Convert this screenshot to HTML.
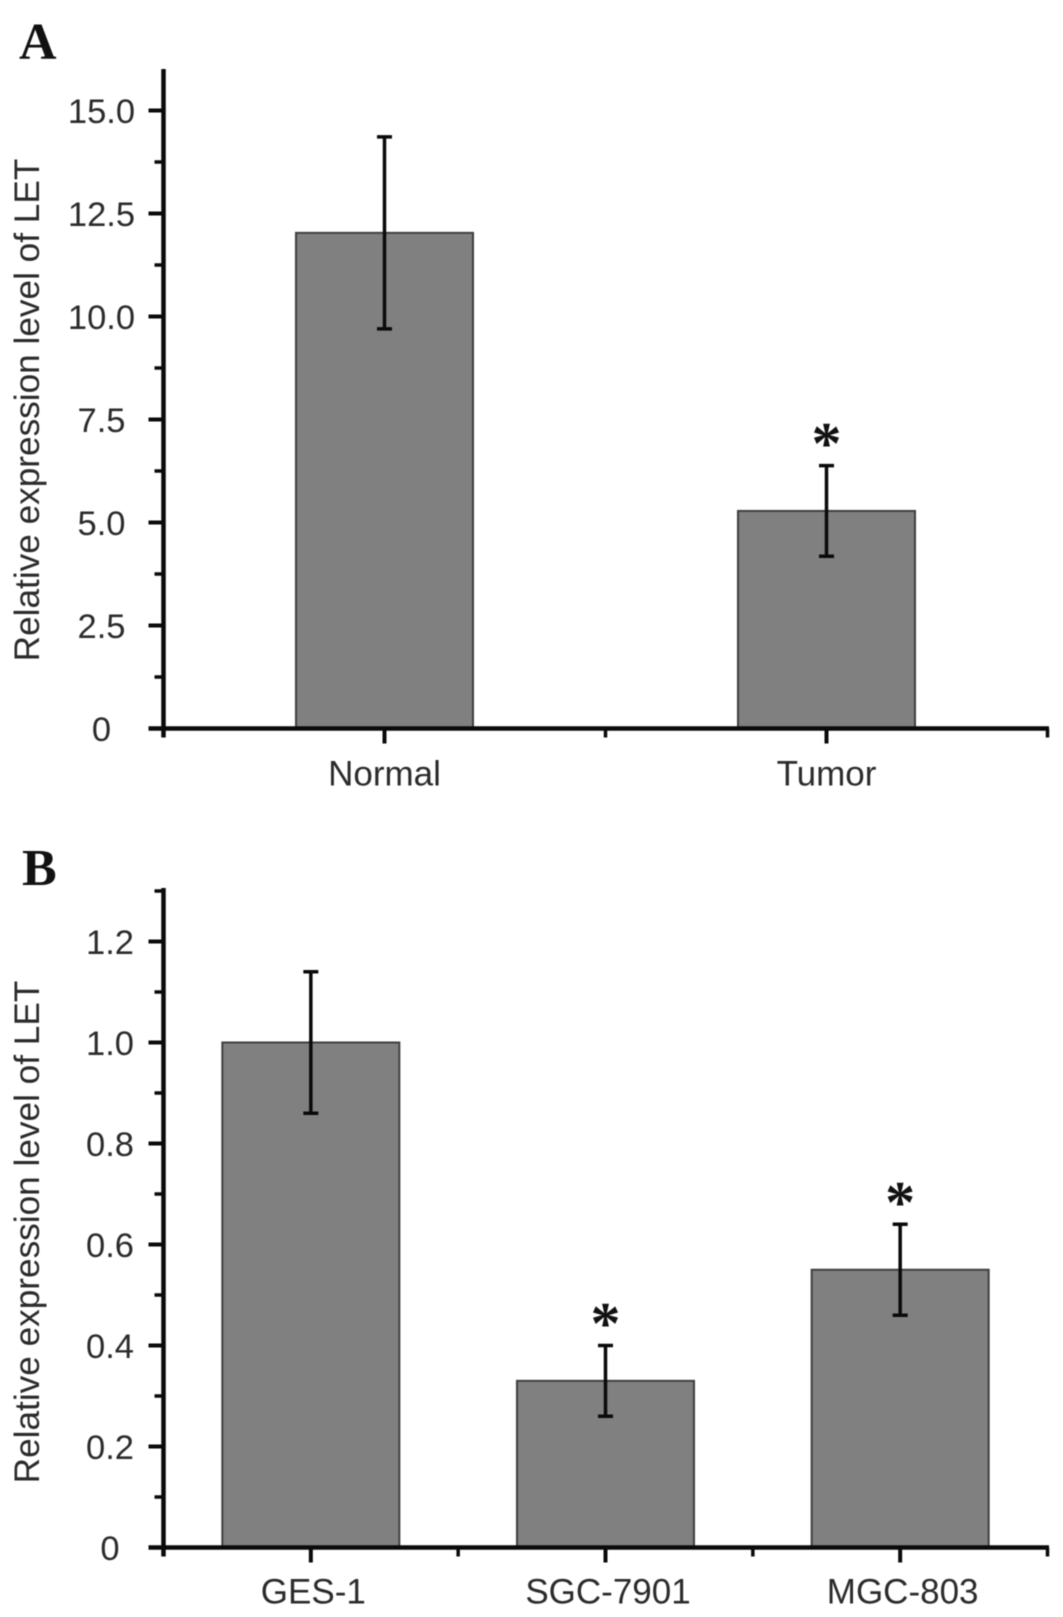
<!DOCTYPE html>
<html>
<head>
<meta charset="utf-8">
<style>
html,body{margin:0;padding:0;background:#fff;width:1063px;height:1617px;overflow:hidden}
svg{display:block;filter:blur(.6px)}
text{font-family:"Liberation Sans",Arial,sans-serif;fill:#2b2b2b}
.tick{font-size:34.5px}
.cat{font-size:35px}
.ytitle{font-size:35.2px}
.panel{font-family:"Liberation Serif","Times New Roman",serif;font-weight:bold;font-size:52px;fill:#111}
.star{font-family:"Liberation Serif","Times New Roman",serif;font-weight:bold;font-size:60px;fill:#111}
</style>
</head>
<body>
<svg id="chart" width="1063" height="1617" viewBox="0 0 1063 1617" xmlns="http://www.w3.org/2000/svg">
<rect width="1063" height="1617" fill="#fff"/>
<text class="panel" x="19" y="59">A</text>
<text class="panel" x="22" y="885">B</text>
</svg>
<script>
const categoriesA = ["Normal", "Tumor"];
const valuesA = [12.03, 5.28];
const errorsA = [2.33, 1.1];
const starsA = [false, true];
const tickLabelsA = ["0", "2.5", "5.0", "7.5", "10.0", "12.5", "15.0"];
const tickValuesA = [0, 2.5, 5, 7.5, 10, 12.5, 15];
const minorTicksA = [1.25, 3.75, 6.25, 8.75, 11.25, 13.75];

const categoriesB = ["GES-1", "SGC-7901", "MGC-803"];
const valuesB = [1.0, 0.33, 0.55];
const errorsB = [0.14, 0.07, 0.09];
const starsB = [false, true, true];
const tickLabelsB = ["0", "0.2", "0.4", "0.6", "0.8", "1.0", "1.2"];
const tickValuesB = [0, 0.2, 0.4, 0.6, 0.8, 1.0, 1.2];
const minorTicksB = [0.1, 0.3, 0.5, 0.7, 0.9, 1.1, 1.3];

const svg = document.getElementById('chart');
const NS = 'http://www.w3.org/2000/svg';

function make(tag, attrs, text) {
  const el = document.createElementNS(NS, tag);
  for (const k in attrs) el.setAttribute(k, attrs[k]);
  if (text !== undefined) el.textContent = text;
  svg.appendChild(el);
  return el;
}

function drawPanel(cfg) {
  const y = v => cfg.y0 - v * cfg.pxPerUnit;
  const n = cfg.categories.length;
  const step = (cfg.xEnd - cfg.xStart) / n;
  const x = i => cfg.xStart + step * (i + 0.5);
  const barW = 177;

  cfg.values.forEach((v, i) => {
    const bar = make('rect', {x: x(i) - barW / 2, y: y(v), width: barW, height: cfg.y0 - y(v), fill: '#808080', stroke: '#3f3f3f', 'stroke-width': 2});
    
    

    const top = y(v + cfg.errors[i]);
    const bottom = y(v - cfg.errors[i]);
    const err = make('path', {d: 'M' + (x(i) - 7.5) + ' ' + top + 'H' + (x(i) + 7.5) + 'M' + x(i) + ' ' + top + 'V' + bottom + 'M' + (x(i) - 7.5) + ' ' + bottom + 'H' + (x(i) + 7.5), stroke: '#0a0a0a', 'stroke-width': 3.5, fill: 'none'});
    
    

    if (cfg.stars[i]) {
      const star = make('text', {class: 'star', x: x(i), y: top - 2, 'text-anchor': 'middle'}, '*');
      
      
    }

    const label = make('text', {class: 'cat', x: x(i) + cfg.labelDx, y: cfg.y0 + cfg.labelDy, 'text-anchor': 'middle'}, cfg.categories[i]);
    
    
  });

  const yAxis = make('line', {x1: cfg.xStart, x2: cfg.xStart, y1: cfg.yTop, y2: cfg.y0 + 9, stroke: '#0a0a0a', 'stroke-width': 4.5});
  
  

  const xAxis = make('line', {x1: cfg.xStart - 15, x2: cfg.xEnd + 1.5, y1: cfg.y0, y2: cfg.y0, stroke: '#0a0a0a', 'stroke-width': 4.5});
  
  

  cfg.tickValues.forEach((v, i) => {
    const t = make('line', {x1: cfg.xStart - 15, x2: cfg.xStart, y1: y(v), y2: y(v), stroke: '#0a0a0a', 'stroke-width': 4});
    
    
    const l = make('text', {class: 'tick', x: cfg.labelCx, y: y(v) + 12.5, 'text-anchor': 'middle'}, cfg.tickLabels[i]);
    
    
  });

  cfg.minorTicks.forEach(v => {
    const t = make('line', {x1: cfg.xStart - 9, x2: cfg.xStart, y1: y(v), y2: y(v), stroke: '#0a0a0a', 'stroke-width': 3.5});
    
    
  });

  for (let i = 0; i < n; i++) {
    const major = make('line', {x1: x(i), x2: x(i), y1: cfg.y0, y2: cfg.y0 + 15, stroke: '#0a0a0a', 'stroke-width': 4});
    
    
    const edge = cfg.xStart + step * (i + 1);
    const minor = make('line', {x1: edge, x2: edge, y1: cfg.y0, y2: cfg.y0 + 9, stroke: '#0a0a0a', 'stroke-width': 3.5});
    
    
  }

  const title = make('text', {class: 'ytitle', transform: 'translate(' + 39 + ' ' + cfg.titleY + ') rotate(-90)', 'text-anchor': 'middle'}, 'Relative expression level of LET');
  
  
}

drawPanel({categories: categoriesA, values: valuesA, errors: errorsA, stars: starsA, tickValues: tickValuesA, tickLabels: tickLabelsA, minorTicks: minorTicksA, xStart: 163.5, xEnd: 1047.5, y0: 728.5, yTop: 69, pxPerUnit: 41.2, titleY: 410, labelCx: 101.5, labelDx: 0, labelDy: 57});
drawPanel({categories: categoriesB, values: valuesB, errors: errorsB, stars: starsB, tickValues: tickValuesB, tickLabels: tickLabelsB, minorTicks: minorTicksB, xStart: 163.5, xEnd: 1047.5, y0: 1547.5, yTop: 888, pxPerUnit: 505, titleY: 1232, labelCx: 110, labelDx: 2.5, labelDy: 56});
</script>
</body>
</html>
